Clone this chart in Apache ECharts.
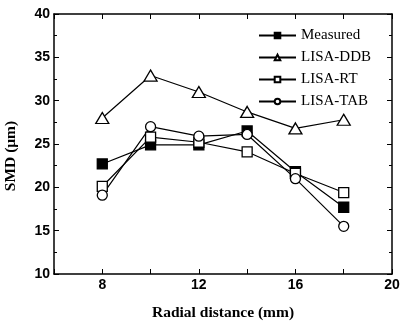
<!DOCTYPE html>
<html lang="en">
<head>
	<meta charset="UTF-8">
	<title>SMD vs radial distance</title>
	<script type="text/javascript" src="https://cdn.jsdelivr.net/npm/echarts@6/dist/echarts.min.js"></script>
	<style>
		html, body { margin: 0; padding: 0; background: #fff; }
	</style>
</head>
<body>
	<div id="smdChart" style="width: 404px;height: 324px;"></div>

   <script type="text/javascript">
        var radialDistance = [8, 10, 12, 14, 16, 18];
        var measured = [22.7, 24.9, 24.9, 26.5, 21.8, 17.7];
        var lisaDDB  = [28.0, 32.9, 31.0, 28.7, 26.8, 27.8];
        var lisaRT   = [20.1, 25.8, 25.2, 24.1, 21.6, 19.4];
        var lisaTAB  = [19.1, 27.0, 25.9, 26.1, 21.0, 15.5];
        var xLabels = [8, 12, 16, 20];

        var pairUp = function(xs, ys){
            var out = [];
            for(var i=0;i<xs.length;i++){
                out.push([xs[i], ys[i]]);
            }
            return out;
        };

        var makeSeries = function(name, values, symbol, filled, size){
            return {
                name: name,
                type: 'line',
                data: pairUp(radialDistance, values),
                symbol: symbol,
                symbolSize: size,
                showAllSymbol: true,
                lineStyle: { color: '#000', width: 1.2 },
                itemStyle: {
                    color: filled ? '#000' : '#fff',
                    borderColor: '#000',
                    borderWidth: 1.3
                },
                emphasis: { disabled: true },
                animation: false
            };
        };

        var chart = echarts.init(document.getElementById('smdChart'));
        var sansBold = { fontFamily: 'Liberation Sans', fontWeight: 'bold', fontSize: 14, color: '#000' };
        var option = {
            backgroundColor: '#fff',
            animation: false,
            grid: { left: 54, right: 12, top: 14, bottom: 50, outerBoundsMode: 'none', containLabel: false },
            legend: {
                orient: 'vertical',
                left: 253,
                top: 23,
                itemWidth: 37,
                itemHeight: 7,
                itemGap: 7,
                textStyle: { fontFamily: 'Liberation Serif', fontSize: 15, color: '#000' },
                data: ['Measured', 'LISA-DDB', 'LISA-RT', 'LISA-TAB']
            },
            xAxis: [{
                type: 'value',
                min: 6, max: 20, interval: 2,
                name: 'Radial distance (mm)',
                nameLocation: 'middle',
                nameGap: 31,
                nameTextStyle: { fontFamily: 'Liberation Serif', fontWeight: 'bold', fontSize: 15.5, color: '#000' },
                axisLine: { lineStyle: { color: '#000', width: 1.5 } },
                axisTick: { inside: true, length: 5, lineStyle: { color: '#000' } },
                axisLabel: Object.assign({ margin: 4, formatter: function(v){ return xLabels.indexOf(v) >= 0 ? String(v) : ''; } }, sansBold),
                splitLine: { show: false }
            }, {
                type: 'value',
                position: 'top',
                min: 6, max: 20, interval: 2,
                axisLine: { lineStyle: { color: '#000', width: 1.5 } },
                axisTick: { inside: true, length: 5, lineStyle: { color: '#000' } },
                axisLabel: { show: false },
                splitLine: { show: false }
            }],
            yAxis: [{
                type: 'value',
                min: 10, max: 40, interval: 5,
                name: 'SMD (\u03bcm)',
                nameLocation: 'middle',
                nameGap: 35,
                nameTextStyle: { fontFamily: 'Liberation Serif', fontWeight: 'bold', fontSize: 15.5, color: '#000', padding: [0, 24, 0, 0] },
                axisLine: { show: true, lineStyle: { color: '#000', width: 1.5 } },
                axisTick: { inside: true, length: 5, lineStyle: { color: '#000' } },
                minorTick: { show: true, splitNumber: 2, length: 3, lineStyle: { color: '#000' } },
                axisLabel: Object.assign({ margin: 4 }, sansBold),
                splitLine: { show: false }
            }, {
                type: 'value',
                position: 'right',
                min: 10, max: 40, interval: 5,
                axisLine: { show: true, lineStyle: { color: '#000', width: 1.5 } },
                axisTick: { inside: true, length: 5, lineStyle: { color: '#000' } },
                minorTick: { show: true, splitNumber: 2, length: 3, lineStyle: { color: '#000' } },
                axisLabel: { show: false },
                splitLine: { show: false }
            }],
            series: [
                makeSeries('Measured', measured, 'rect', true, 10),
                makeSeries('LISA-DDB', lisaDDB, 'triangle', false, [13, 11]),
                makeSeries('LISA-RT', lisaRT, 'rect', false, 10),
                makeSeries('LISA-TAB', lisaTAB, 'circle', false, 10)
            ]
        };
        chart.setOption(option);
   </script>
</body>
</html>
